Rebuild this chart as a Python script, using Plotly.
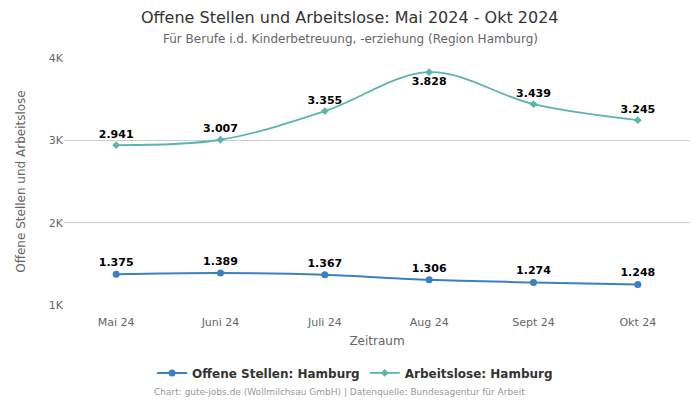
import plotly.graph_objects as go

months = ["Mai 24", "Juni 24", "Juli 24", "Aug 24", "Sept 24", "Okt 24"]
offene = [1375, 1389, 1367, 1306, 1274, 1248]
arbeitslose = [2941, 3007, 3355, 3828, 3439, 3245]
y_ticks = [1000, 2000, 3000, 4000]
y_tick_labels = ["1K", "2K", "3K", "4K"]

def de(v):
    return f"{v:,}".replace(",", ".")

FONT = "DejaVu Sans, Verdana, sans-serif"
blue = "#3a80c1"
teal = "#5ab5ad"

fig = go.Figure()
fig.add_trace(go.Scatter(
    x=months, y=offene, name="Offene Stellen: Hamburg",
    mode="lines+markers+text", line=dict(color=blue, width=2, shape="spline"),
    marker=dict(symbol="circle", size=7, color=blue),
    text=[de(v) for v in offene], textposition="top center",
    textfont=dict(family=FONT, size=11, color="#000000"),
    texttemplate="<b>%{text}</b>",
))
pos_a = ["top center"] * len(arbeitslose)
pos_a[arbeitslose.index(max(arbeitslose))] = "bottom center"
fig.add_trace(go.Scatter(
    x=months, y=arbeitslose, name="Arbeitslose: Hamburg",
    mode="lines+markers+text", line=dict(color=teal, width=1.8, shape="spline"),
    marker=dict(symbol="diamond", size=6, color=teal),
    text=[de(v) for v in arbeitslose], textposition=pos_a,
    textfont=dict(family=FONT, size=11, color="#000000"),
    texttemplate="<b>%{text}</b>",
))

fig.update_layout(
    width=700, height=400,
    margin=dict(l=64, r=10, t=58, b=95, autoexpand=False),
    paper_bgcolor="white", plot_bgcolor="white",
    font=dict(family=FONT, color="#666666"),
    xaxis=dict(
        type="category", range=[-0.5, 5.5], showgrid=False, zeroline=False,
        showline=False, ticks="outside", ticklen=7, tickcolor="rgba(0,0,0,0)",
        tickfont=dict(size=11, color="#666666"),
        automargin=False,
        title=dict(text="Zeitraum", font=dict(size=12, color="#666666"), standoff=8),
    ),
    yaxis=dict(
        range=[1000, 4000], tickvals=y_ticks, ticktext=y_tick_labels,
        showgrid=True, gridcolor="#cccccc", gridwidth=1, zeroline=False,
        tickfont=dict(size=11, color="#666666"), ticks="", ticklen=0,
        automargin=False,
        title=dict(text="Offene Stellen und Arbeitslose", font=dict(size=12, color="#666666"), standoff=20),
    ),
    legend=dict(
        orientation="h", x=0.465, xanchor="center", y=-0.275, yanchor="middle",
        font=dict(family=FONT, size=12, color="#333333", weight="bold"),
        itemwidth=30, tracegroupgap=0,
    ),
    showlegend=True,
)
fig.add_annotation(
    text="Offene Stellen und Arbeitslose: Mai 2024 - Okt 2024",
    xref="paper", yref="paper", x=0.5 - 27/626, y=1 + (58-17)/247,
    xanchor="center", yanchor="middle", showarrow=False,
    font=dict(family=FONT, size=16, color="#333333"),
)
fig.add_annotation(
    text="Für Berufe i.d. Kinderbetreuung, -erziehung (Region Hamburg)",
    xref="paper", yref="paper", x=0.5 - 27/626, y=1 + (58-39)/247,
    xanchor="center", yanchor="middle", showarrow=False,
    font=dict(family=FONT, size=12, color="#666666"),
)
fig.add_annotation(
    text="Chart: gute-jobs.de (Wollmilchsau GmbH) | Datenquelle: Bundesagentur für Arbeit",
    xref="paper", yref="paper", x=0.5 - 38/626, y=-(392-305)/247,
    xanchor="center", yanchor="middle",
    showarrow=False, font=dict(family=FONT, size=9, color="#999999"),
)
fig.write_html(
    "out.html",
    config={"displayModeBar": False},
    post_script="document.body.style.margin='0px';document.body.style.padding='0px';",
)
